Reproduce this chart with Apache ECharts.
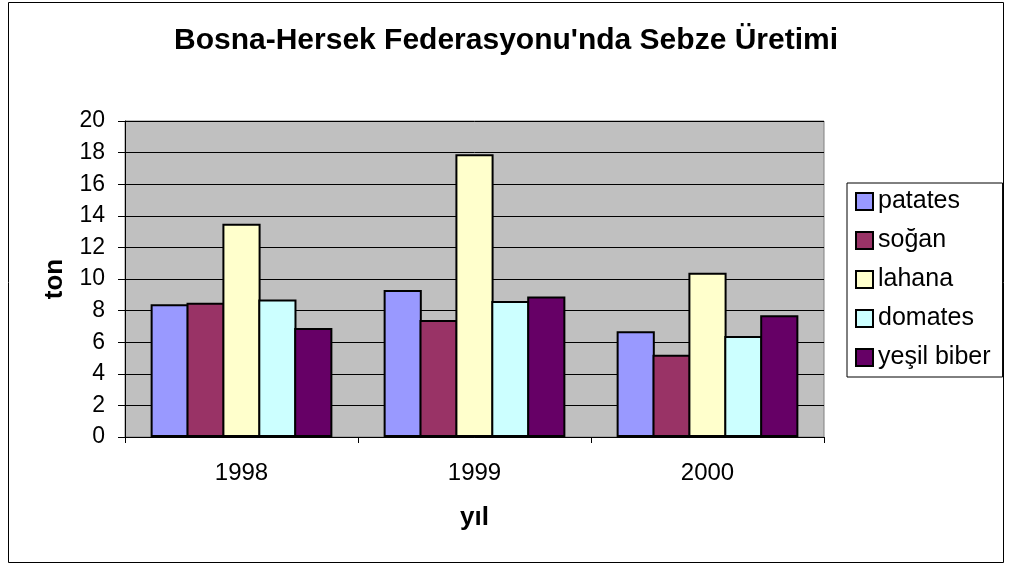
<!DOCTYPE html>
<html>
<head>
<meta charset="utf-8">
<script src="https://cdn.jsdelivr.net/npm/echarts@6/dist/echarts.min.js"></script>
<style>
  html, body { margin: 0; padding: 0; background: #fff; }
  #chart { width: 1012px; height: 565px; }
</style>
</head>
<body>
<div id="chart"></div>
<script>
// yıllar ve sebze üretimi (ton)
var years = ['1998', '1999', '2000'];
var patates = [8.4, 9.3, 6.7];
var sogan = [8.5, 7.4, 5.2];
var lahana = [13.5, 17.9, 10.4];
var domates = [8.7, 8.6, 6.4];
var yesilBiber = [6.9, 8.9, 7.7];

var seriesNames = ['patates', 'soğan', 'lahana', 'domates', 'yeşil biber'];
var seriesData = [patates, sogan, lahana, domates, yesilBiber];
var colors = ['#9999ff', '#993366', '#ffffcc', '#ccffff', '#660066'];

var chart = echarts.init(document.getElementById('chart'));

var series = seriesNames.map(function (name, i) {
    return {
        name: name,
        type: 'bar',
        data: seriesData[i],
        barGap: '-6%',
        barCategoryGap: '22%',
        itemStyle: {color: colors[i], borderColor: '#000', borderWidth: 2},
        emphasis: {disabled: true}
    };
});

var option = {
    animation: false,
    textStyle: {fontFamily: 'Liberation Sans, Arial, sans-serif'},
    title: {
        text: "Bosna-Hersek Federasyonu'nda Sebze Üretimi",
        left: 'center',
        top: 21,
        textStyle: {fontSize: 30, fontWeight: 'bold', color: '#000'}
    },
    graphic: [{
        type: 'rect',
        shape: {x: 8.5, y: 2.5, width: 995, height: 560},
        style: {fill: 'none', stroke: '#000', lineWidth: 1},
        silent: true
    }],
    legend: {
        orient: 'vertical',
        left: 847,
        top: 183,
        icon: 'rect',
        itemWidth: 17,
        itemHeight: 17,
        itemGap: 14,
        padding: [6, 12, 7, 8],
        borderColor: '#000',
        borderWidth: 1,
        textStyle: {fontSize: 25, color: '#000'},
        data: seriesNames
    },
    grid: {
        left: 125,
        right: 188,
        top: 121,
        bottom: 128,
        show: true,
        backgroundColor: '#c0c0c0',
        borderColor: '#808080',
        borderWidth: 1
    },
    xAxis: {
        type: 'category',
        data: years,
        name: 'yıl',
        nameLocation: 'middle',
        nameGap: 68,
        nameTextStyle: {fontSize: 26, fontWeight: 'bold', color: '#000'},
        axisLine: {lineStyle: {color: '#000', width: 1}},
        axisTick: {show: true, inside: false, length: 6, lineStyle: {color: '#000'}},
        axisLabel: {fontSize: 24, color: '#000', margin: 24}
    },
    yAxis: {
        type: 'value',
        min: 0,
        max: 20,
        interval: 2,
        name: 'ton',
        nameLocation: 'middle',
        nameGap: 57,
        nameTextStyle: {fontSize: 26, fontWeight: 'bold', color: '#000'},
        axisLine: {show: true, lineStyle: {color: '#000', width: 1}},
        axisTick: {show: true, length: 7, lineStyle: {color: '#000'}},
        axisLabel: {fontSize: 23, color: '#000', margin: 20},
        splitLine: {show: true, lineStyle: {color: '#000', width: 1}}
    },
    series: series
};

chart.setOption(option, true);
</script>
</body>
</html>
